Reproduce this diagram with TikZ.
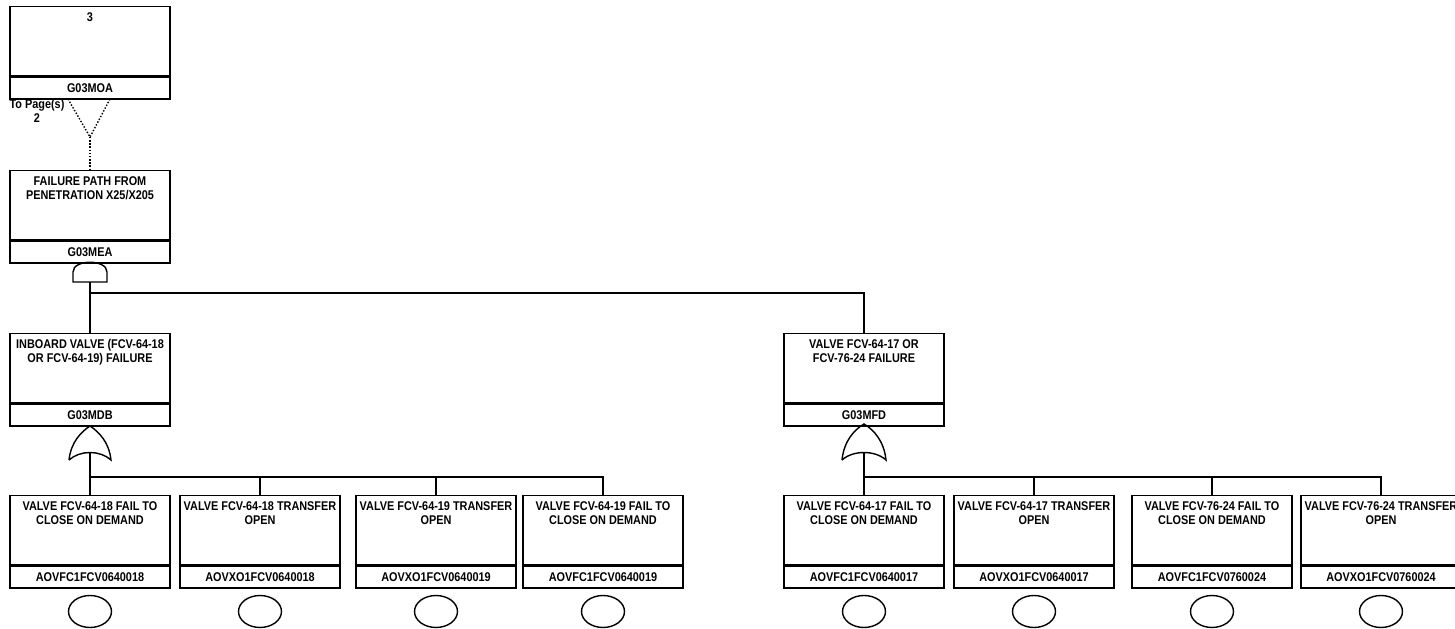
\documentclass[tikz,border=0pt]{standalone}
\usepackage{fontspec}
\newfontfamily\evfont[FakeStretch=0.86]{Liberation Sans}
\usepackage{tikz}
\usetikzlibrary{shapes.geometric, positioning}

\begin{document}
\begin{tikzpicture}[
    x=0.02cm, y=-0.02cm,
    txt/.style={font=\evfont\bfseries\fontsize{7.2}{7.8}\selectfont},
    evt/.style={rectangle, draw, line width=0.8pt, minimum width=3.2cm, minimum height=1.38cm, inner sep=0pt},
    evtxt/.style={txt, anchor=north, align=center, inner sep=0pt, yshift=-3.5pt},
    evid/.style={rectangle, draw, line width=0.8pt, txt, minimum width=3.2cm, minimum height=0.44cm, inner sep=0pt, below=0pt of #1},
    basic/.style={ellipse, draw, line width=0.8pt, minimum width=0.86cm, minimum height=0.64cm, below=0.12cm of #1},
    gate/.style={line width=0.8pt},
    line/.style={line width=0.8pt},
]
    \useasboundingbox (0,0) rectangle (1455,629);

    % Transfer gate and top event
    \node[evt, anchor=north, label={[evtxt]north:3}] at (90,6) (moa) {};
    \node[evid=moa] (moaid) {G03MOA};
    \node[txt, align=center, inner sep=0pt] at (37,111) (topage) {To Page(s)\\2};
    \draw[line, densely dotted] (68,99) -- (90,137) -- (110,99);
    \coordinate (tr1) at (90,137);

    \node[evt, anchor=north, label={[evtxt]north:{FAILURE PATH FROM\\PENETRATION X25/X205}}] at (90,170) (mea) {};
    \node[evid=mea] (meaid) {G03MEA};
    \draw[line, densely dotted] (tr1) -- (mea.north);

    % AND gate
    \begin{scope}[shift={(90,282)}]
        \draw[gate] (-17,0) -- (-17,-10) .. controls (-17,-23) and (17,-23) .. (17,-10) -- (17,0) -- cycle;
        \coordinate (and1) at (0,0);
    \end{scope}

    % Intermediate events
    \node[evt, anchor=north, label={[evtxt]north:{INBOARD VALVE (FCV-64-18\\OR FCV-64-19) FAILURE}}] at (90,333) (mdb) {};
    \node[evid=mdb] (mdbid) {G03MDB};
    \node[evt, anchor=north, label={[evtxt]north:{VALVE FCV-64-17 OR\\FCV-76-24 FAILURE}}] at (864,333) (mfd) {};
    \node[evid=mfd] (mfdid) {G03MFD};

    \coordinate (j1) at (90,293);
    \draw[line] (and1) -- (mdb.north);
    \draw[line] (j1) -| (mfd.north);

    % OR gates
    \begin{scope}[shift={(90,460)}]
        \draw[gate] (-21,0) .. controls (-19,-18) and (-9,-28) .. (0,-34) .. controls (9,-28) and (19,-18) .. (21,0) .. controls (10,-10) and (-10,-10) .. (-21,0);
        \coordinate (or1) at (0,-7.5);
    \end{scope}
    \begin{scope}[shift={(864,460)}]
        \draw[gate] (-22,0) .. controls (-20,-19) and (-10,-30) .. (0,-36) .. controls (10,-30) and (20,-19) .. (22,0) .. controls (11,-10) and (-11,-10) .. (-22,0);
        \coordinate (or2) at (0,-7.5);
    \end{scope}

    % Basic events, left branch
    \node[evt, anchor=north, label={[evtxt]north:{VALVE FCV-64-18 FAIL TO\\CLOSE ON DEMAND}}] at (90,495) (fc18) {};
    \node[evid=fc18] (fc18id) {AOVFC1FCV0640018};
    \node[basic=fc18id] (fc18c) {};
    \node[evt, anchor=north, label={[evtxt]north:{VALVE FCV-64-18 TRANSFER\\OPEN}}] at (260,495) (xo18) {};
    \node[evid=xo18] (xo18id) {AOVXO1FCV0640018};
    \node[basic=xo18id] (xo18c) {};
    \node[evt, anchor=north, label={[evtxt]north:{VALVE FCV-64-19 TRANSFER\\OPEN}}] at (436,495) (xo19) {};
    \node[evid=xo19] (xo19id) {AOVXO1FCV0640019};
    \node[basic=xo19id] (xo19c) {};
    \node[evt, anchor=north, label={[evtxt]north:{VALVE FCV-64-19 FAIL TO\\CLOSE ON DEMAND}}] at (603,495) (fc19) {};
    \node[evid=fc19] (fc19id) {AOVFC1FCV0640019};
    \node[basic=fc19id] (fc19c) {};

    % Basic events, right branch
    \node[evt, anchor=north, label={[evtxt]north:{VALVE FCV-64-17 FAIL TO\\CLOSE ON DEMAND}}] at (864,495) (fc17) {};
    \node[evid=fc17] (fc17id) {AOVFC1FCV0640017};
    \node[basic=fc17id] (fc17c) {};
    \node[evt, anchor=north, label={[evtxt]north:{VALVE FCV-64-17 TRANSFER\\OPEN}}] at (1034,495) (xo17) {};
    \node[evid=xo17] (xo17id) {AOVXO1FCV0640017};
    \node[basic=xo17id] (xo17c) {};
    \node[evt, anchor=north, label={[evtxt]north:{VALVE FCV-76-24 FAIL TO\\CLOSE ON DEMAND}}] at (1212,495) (fc24) {};
    \node[evid=fc24] (fc24id) {AOVFC1FCV0760024};
    \node[basic=fc24id] (fc24c) {};
    \node[evt, anchor=north, label={[evtxt]north:{VALVE FCV-76-24 TRANSFER\\OPEN}}] at (1381,495) (xo24) {};
    \node[evid=xo24] (xo24id) {AOVXO1FCV0760024};
    \node[basic=xo24id] (xo24c) {};

    \coordinate (j2) at (90,477);
    \coordinate (j3) at (864,477);
    \draw[line] (or1) -- (fc18.north);
    \draw[line] (j2) -| (xo18.north);
    \draw[line] (j2) -| (xo19.north);
    \draw[line] (j2) -| (fc19.north);
    \draw[line] (or2) -- (fc17.north);
    \draw[line] (j3) -| (xo17.north);
    \draw[line] (j3) -| (fc24.north);
    \draw[line] (j3) -| (xo24.north);
\end{tikzpicture}
\end{document}
